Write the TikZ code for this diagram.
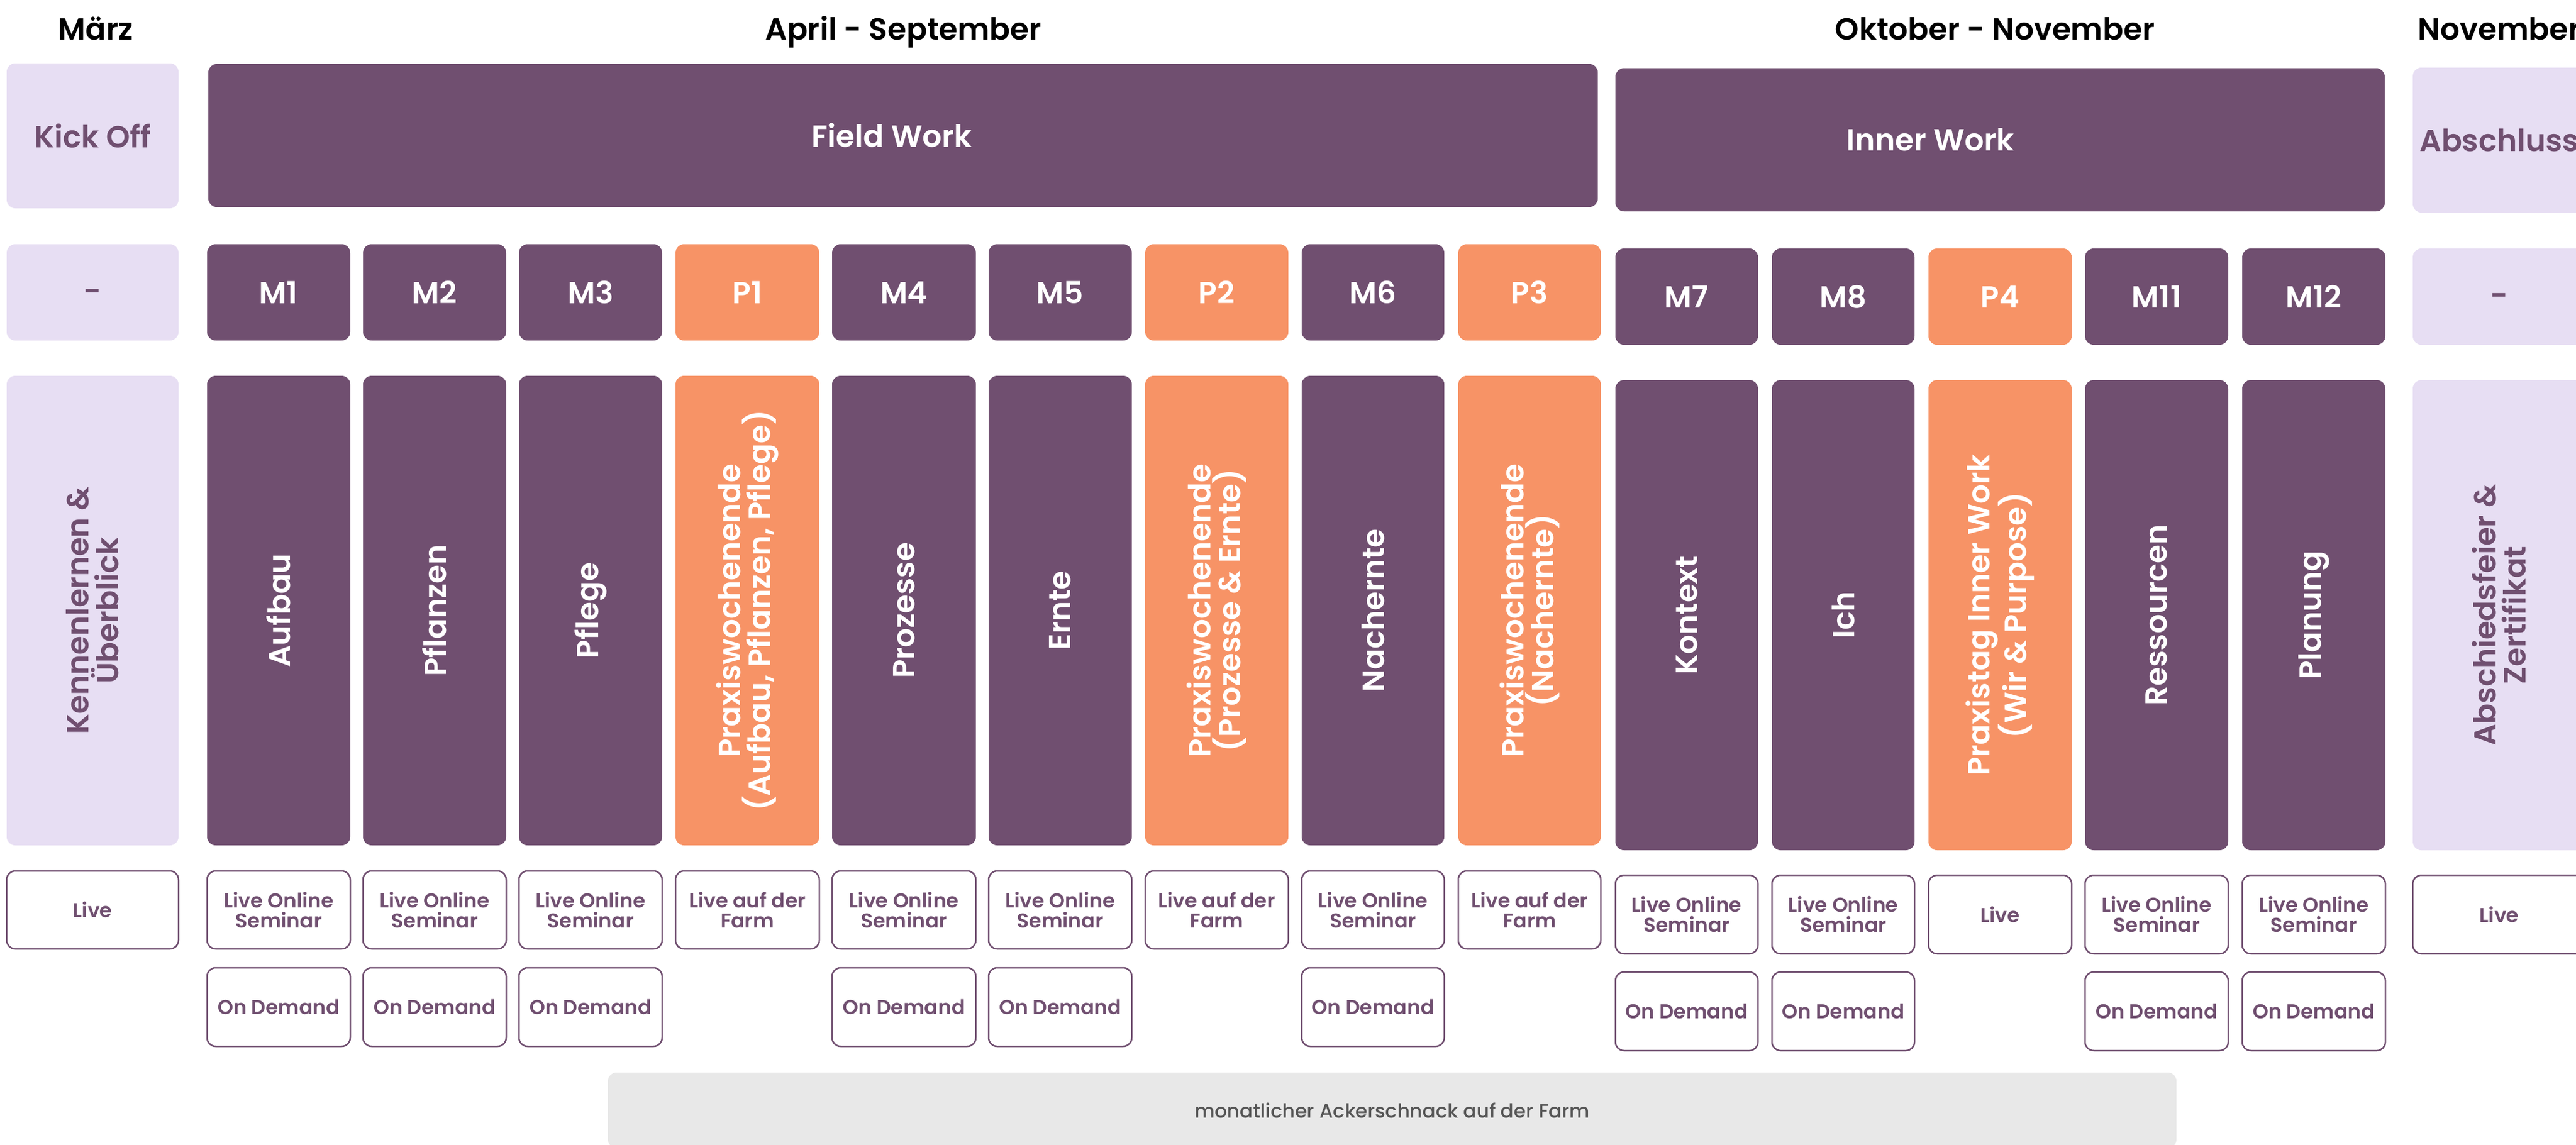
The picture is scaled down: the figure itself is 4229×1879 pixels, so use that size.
\documentclass[tikz,border=0pt]{standalone}
\usepackage{fontspec}
\setmainfont{Poppins SemiBold}
\newfontfamily\popmed{Poppins Medium}
\definecolor{plum}{HTML}{704F70}
\definecolor{orng}{HTML}{F79366}
\definecolor{lav}{HTML}{E7DEF3}
\definecolor{grayb}{HTML}{E8E8E8}
\definecolor{graytxt}{HTML}{555555}
\newcommand\mybox[7]{\node[#1, minimum width={(#5-#3)*1pt}, minimum height={(#6-#4)*1pt}] (#2) at ({(#3+#5)/2},{(#4+#6)/2}) {#7};}
\newcommand\myvbox[7]{\node[#1, rotate=90, minimum width={(#6-#4)*1pt}, minimum height={(#5-#3)*1pt}] (#2) at ({(#3+#5)/2},{(#4+#6)/2}) {#7};}
\begin{document}
\begin{tikzpicture}[x=1pt,y=-1pt,
  base/.style={draw=none, rounded corners=14pt, inner sep=0pt, align=center, font=\fontsize{50}{49}\selectfont},
  dark/.style={base, fill=plum, text=white},
  orange/.style={base, fill=orng, text=white},
  lavbox/.style={base, fill=lav, text=plum},
  outl/.style={draw=plum, line width=2.5pt, fill=white, rounded corners=14pt, inner sep=0pt, align=center, text=plum, font=\fontsize{33}{33}\selectfont},
  hdr/.style={inner sep=0pt, anchor=base, text=black, font=\fontsize{50}{50}\selectfont},
  bigtxt/.style={inner sep=0pt, text=white, font=\fontsize{50}{50}\selectfont},
  dashtxt/.style={inner sep=0pt, text=plum, font=\fontsize{50}{50}\selectfont},
  bar/.style={draw=none, fill=grayb, rounded corners=14pt, inner sep=0pt, text=graytxt, font=\popmed\fontsize{32}{32}\selectfont}
]
\useasboundingbox (0,0) rectangle (4229,1879);
\fill[white] (0,0) rectangle (4229,1879);

% headers
\node[hdr] (hMar) at (157,65) {März};
\node[hdr] (hApr) at (1483,65) {April - September};
\node[hdr] (hOkt) at (3275,65) {Oktober - November};
\node[hdr] (hNov) at (4103,65) {November};

% row 1
\mybox{lavbox}{kick}{11}{104}{293}{342}{Kick Off}
\mybox{dark}{field}{342}{105}{2623}{340}{}
\node[bigtxt] (fieldT) at (1464,222) {Field Work};
\mybox{dark}{inner}{2652}{112}{3915}{347}{}
\node[bigtxt] (innerT) at (3169,229) {Inner Work};
\mybox{lavbox}{absch}{3961}{111}{4245}{349}{Abschluss}

% row 2
\mybox{lavbox}{a0}{11}{401}{293}{559}{}
\node[dashtxt] (a0dash) at (152,485) {-};
\mybox{dark}{m1}{340}{401}{575}{559}{M1}
\mybox{dark}{m2}{596}{401}{831}{559}{M2}
\mybox{dark}{m3}{852}{401}{1087}{559}{M3}
\mybox{orange}{p1}{1109}{401}{1345}{559}{P1}
\mybox{dark}{m4}{1366}{401}{1602}{559}{M4}
\mybox{dark}{m5}{1623}{401}{1858}{559}{M5}
\mybox{orange}{p2}{1880}{401}{2115}{559}{P2}
\mybox{dark}{m6}{2137}{401}{2371}{559}{M6}
\mybox{orange}{p3}{2394}{401}{2628}{559}{P3}
\mybox{dark}{m7}{2652}{408}{2886}{566}{M7}
\mybox{dark}{m8}{2909}{408}{3143}{566}{M8}
\mybox{orange}{p4}{3166}{408}{3401}{566}{P4}
\mybox{dark}{m11}{3423}{408}{3658}{566}{M11}
\mybox{dark}{m12}{3681}{408}{3916}{566}{M12}
\mybox{lavbox}{n0}{3961}{408}{4245}{566}{}
\node[dashtxt] (n0dash) at (4103,492) {-};

% row 3
\myvbox{lavbox}{a0t}{11}{617}{293}{1388}{Kennenlernen \&\\Überblick}
\myvbox{dark}{m1t}{340}{617}{575}{1388}{Aufbau}
\myvbox{dark}{m2t}{596}{617}{831}{1388}{Pflanzen}
\myvbox{dark}{m3t}{852}{617}{1087}{1388}{Pflege}
\myvbox{orange}{p1t}{1109}{617}{1345}{1388}{Praxiswochenende\\(Aufbau, Pflanzen, Pflege)}
\myvbox{dark}{m4t}{1366}{617}{1602}{1388}{Prozesse}
\myvbox{dark}{m5t}{1623}{617}{1858}{1388}{Ernte}
\myvbox{orange}{p2t}{1880}{617}{2115}{1388}{Praxiswochenende\\(Prozesse \& Ernte)}
\myvbox{dark}{m6t}{2137}{617}{2371}{1388}{Nachernte}
\myvbox{orange}{p3t}{2394}{617}{2628}{1388}{Praxiswochenende\\(Nachernte)}
\myvbox{dark}{m7t}{2652}{624}{2886}{1396}{Kontext}
\myvbox{dark}{m8t}{2909}{624}{3143}{1396}{Ich}
\myvbox{orange}{p4t}{3166}{624}{3401}{1396}{Praxistag Inner Work\\(Wir \& Purpose)}
\myvbox{dark}{m11t}{3423}{624}{3658}{1396}{Ressourcen}
\myvbox{dark}{m12t}{3681}{624}{3916}{1396}{Planung}
\myvbox{lavbox}{n0t}{3961}{624}{4245}{1396}{Abschiedsfeier \&\\Zertifikat}

% row 4
\mybox{outl}{a0l}{11}{1430}{293}{1558}{Live}
\mybox{outl}{m1l}{340}{1430}{575}{1558}{Live Online\\Seminar}
\mybox{outl}{m2l}{596}{1430}{831}{1558}{Live Online\\Seminar}
\mybox{outl}{m3l}{852}{1430}{1087}{1558}{Live Online\\Seminar}
\mybox{outl}{p1l}{1109}{1430}{1345}{1558}{Live auf der\\Farm}
\mybox{outl}{m4l}{1366}{1430}{1602}{1558}{Live Online\\Seminar}
\mybox{outl}{m5l}{1623}{1430}{1858}{1558}{Live Online\\Seminar}
\mybox{outl}{p2l}{1880}{1430}{2115}{1558}{Live auf der\\Farm}
\mybox{outl}{m6l}{2137}{1430}{2371}{1558}{Live Online\\Seminar}
\mybox{outl}{p3l}{2394}{1430}{2628}{1558}{Live auf der\\Farm}
\mybox{outl}{m7l}{2652}{1437}{2886}{1566}{Live Online\\Seminar}
\mybox{outl}{m8l}{2909}{1437}{3143}{1566}{Live Online\\Seminar}
\mybox{outl}{p4l}{3166}{1437}{3401}{1566}{Live}
\mybox{outl}{m11l}{3423}{1437}{3658}{1566}{Live Online\\Seminar}
\mybox{outl}{m12l}{3681}{1437}{3916}{1566}{Live Online\\Seminar}
\mybox{outl}{n0l}{3961}{1437}{4245}{1566}{Live}

% row 5
\mybox{outl}{m1d}{340}{1589}{575}{1718}{On Demand}
\mybox{outl}{m2d}{596}{1589}{831}{1718}{On Demand}
\mybox{outl}{m3d}{852}{1589}{1087}{1718}{On Demand}
\mybox{outl}{m4d}{1366}{1589}{1602}{1718}{On Demand}
\mybox{outl}{m5d}{1623}{1589}{1858}{1718}{On Demand}
\mybox{outl}{m6d}{2137}{1589}{2371}{1718}{On Demand}
\mybox{outl}{m7d}{2652}{1596}{2886}{1725}{On Demand}
\mybox{outl}{m8d}{2909}{1596}{3143}{1725}{On Demand}
\mybox{outl}{m11d}{3423}{1596}{3658}{1725}{On Demand}
\mybox{outl}{m12d}{3681}{1596}{3916}{1725}{On Demand}

% bottom bar
\mybox{bar}{acker}{998}{1761}{3573}{1885}{monatlicher Ackerschnack auf der Farm}
\end{tikzpicture}
\end{document}
